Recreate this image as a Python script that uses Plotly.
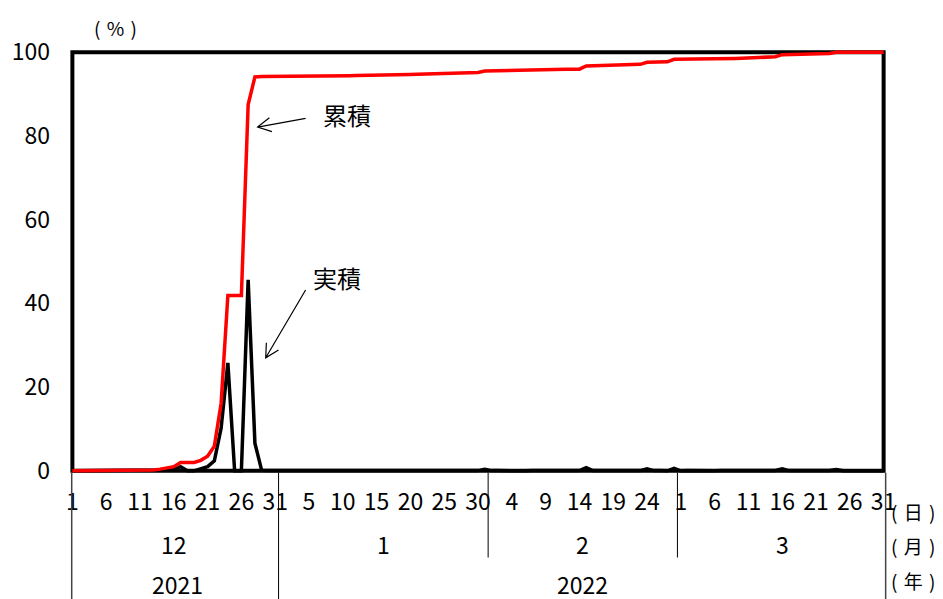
import math
import plotly.graph_objects as go

# ---- data (percent) ----
month_lengths = [31, 31, 28, 31]
month_labels = ["12", "1", "2", "3"]
year_labels = ["2021", "2022"]

dec_daily = [0,0,0,0,0,0,0,0,0,0,0,0, 0.2,0.2,0.3,0.3,1.0,0,0,0.5,1.0,2.4,10.2,25.8,0,0,45.6,6.6,0.1,0.05,0.05]
jan_daily = [0,0,0.05,0,0.05,0,0,0.05,0,0.05, 0,0.05,0,0.05,0,0.05,0,0.05,0,0.05,
             0.05,0.05,0.05,0.05,0.05,0.05,0.05,0.05,0.05,0.05, 0.35]
feb_daily = [0.05,0.05,0,0.05,0.05,0,0.05,0.05,0,0.05, 0,0.05,0,0.05,0.75,0.05,0.05,0.05,0.05,0.05,
             0.05,0.05,0.05,0.5,0.05,0.05,0,0.6]
mar_daily = [0,0.05,0,0.05,0,0,0.05,0,0.05,0.05, 0.05,0.05,0.05,0.1,0.1,0.5,0.05,0.05,0,0.05,
             0.05,0.05,0.05,0.3,0,0,0,0,0,0,0]

dec_cum = [0,0,0,0,0,0,0,0,0,0,0,0, 0.2,0.4,0.7,1.0,2.0,2.0,2.0,2.5,3.5,5.9,16.1,41.9,41.9,41.9,87.5,94.1,94.2,94.2,94.2]
jan_cum = [94.2,94.2,94.25,94.25,94.3,94.3,94.3,94.35,94.35,94.4, 94.4,94.45,94.45,94.5,94.5,94.55,94.55,94.6,94.6,94.65,
           94.7,94.75,94.8,94.85,94.9,94.95,95.0,95.05,95.1,95.15, 95.5]
feb_cum = [95.55,95.6,95.6,95.65,95.7,95.7,95.75,95.8,95.8,95.85, 95.85,95.9,95.9,95.95,96.7,96.75,96.8,96.85,96.9,96.95,
           97.0,97.05,97.1,97.6,97.65,97.7,97.7,98.3]
mar_cum = [98.3,98.35,98.35,98.4,98.4,98.4,98.45,98.45,98.5,98.55, 98.6,98.65,98.7,98.8,98.9,99.4,99.45,99.5,99.5,99.55,
           99.6,99.65,99.7,100,100,100,100,100,100,100,100]

y_ticks = [0, 20, 40, 60, 80, 100]

# ---- build ----
daily = dec_daily + jan_daily + feb_daily + mar_daily
cum = dec_cum + jan_cum + feb_cum + mar_cum
days = [d for n in month_lengths for d in range(1, n + 1)]
n = len(days)
x = list(range(n))

OFF = 8  # default page body margin
W, H = 935, 591
ML, MT = 61, 40
PW, PH = 817.8, 427.4
MR = W - ML - PW
MB = H - MT - PH
XR = [-0.5, n - 0.5]
YR = [-1, 101]
px_x = PW / (XR[1] - XR[0])
px_y = PH / (YR[1] - YR[0])


def xp(idx):
    return (idx - XR[0]) / (XR[1] - XR[0])


def sx(px):
    return (px - OFF - ML) / PW


def sy(py):
    return 1 - (py - OFF - MT) / PH


NFONT = "Noto Sans CJK JP, sans-serif"
SP = "\u2004"

fig = go.Figure()
fig.add_trace(go.Scatter(x=x, y=daily, mode="lines", line=dict(color="black", width=3.5),
                         showlegend=False, hoverinfo="skip"))
fig.add_trace(go.Scatter(x=x, y=cum, mode="lines", line=dict(color="#ff0000", width=3.5),
                         showlegend=False, hoverinfo="skip"))

shapes = []
shapes.append(dict(type="rect", xref="x", yref="y", x0=0, x1=n - 1, y0=0, y1=100,
                   line=dict(color="black", width=4), layer="below"))
starts = [0]
for m in month_lengths[:-1]:
    starts.append(starts[-1] + m)
for i, s in enumerate(starts[1:]):
    is_year = (i == 0)
    shapes.append(dict(type="line", xref="paper", yref="paper", x0=xp(s - 0.5), x1=xp(s - 0.5),
                       y0=sy(473), y1=sy(605 if is_year else 558),
                       line=dict(color="black", width=1)))
for xe in [-0.1, n - 1 + 0.3]:
    shapes.append(dict(type="line", xref="paper", yref="paper", x0=xp(xe), x1=xp(xe),
                       y0=sy(473), y1=sy(605), line=dict(color="#444", width=1.5)))


def open_arrow(tail, head, wing=15, ang=28):
    tx, ty = tail[0] * px_x, tail[1] * px_y
    hx, hy = head[0] * px_x, head[1] * px_y
    a = math.atan2(ty - hy, tx - hx)
    pts = []
    for s in (1, -1):
        b = a + s * math.radians(ang)
        pts.append(((hx + wing * math.cos(b)) / px_x, (hy + wing * math.sin(b)) / px_y))
    path = (f"M{tail[0]},{tail[1]} L{head[0]},{head[1]} "
            f"M{pts[0][0]},{pts[0][1]} L{head[0]},{head[1]} L{pts[1][0]},{pts[1][1]}")
    return dict(type="path", xref="x", yref="y", path=path,
                line=dict(color="black", width=1.2))


shapes.append(open_arrow((34.5, 84.2), (27.4, 82.1)))
shapes.append(open_arrow((34.5, 43.2), (28.6, 27.0)))


def label(text, xv, yv, size, ref="paper"):
    return dict(x=xv, y=yv, xref=ref, yref=ref, text=text, showarrow=False,
                xanchor="center", yanchor="middle",
                font=dict(family=NFONT, size=size, color="black"))


annotations = []
for i, s in enumerate(starts):
    mid = s + (month_lengths[i] - 1) / 2
    annotations.append(label(month_labels[i], xp(mid), sy(544), 23))
annotations.append(label(year_labels[0], xp((month_lengths[0] - 1) / 2 + 0.5), sy(585), 23))
annotations.append(label(year_labels[1], xp((starts[1] + n - 1) / 2), sy(585), 23))
for txt, py in [("日", 512), ("月", 546), ("年", 581)]:
    annotations.append(label("(" + SP + txt + SP + ")", sx(913), sy(py), 19))
annotations.append(label("(" + SP + "%" + SP + ")", sx(115), sy(27), 19))
annotations.append(label("累積", 40.6, 85.0, 24, ref="x"))
annotations[-1]["yref"] = "y"
annotations.append(label("実積", 39.2, 46.2, 24, ref="x"))
annotations[-1]["yref"] = "y"

tickvals = list(range(0, n, 5))
ticktext = [str(days[i]) for i in tickvals]

fig.update_layout(
    width=W, height=H,
    margin=dict(l=ML, r=MR, t=MT, b=MB, autoexpand=False),
    paper_bgcolor="white", plot_bgcolor="white",
    shapes=shapes, annotations=annotations,
    xaxis=dict(range=XR, tickvals=tickvals, ticktext=ticktext, showgrid=False,
               zeroline=False, showline=False, ticks="", ticklabelstandoff=11,
               tickfont=dict(family=NFONT, size=23, color="black"), automargin=False),
    yaxis=dict(range=YR, tickvals=y_ticks, showgrid=False, zeroline=False, showline=False,
               ticks="", ticklabelstandoff=18,
               tickfont=dict(family=NFONT, size=23, color="black"), automargin=False),
)

fig.write_html("out.html")
